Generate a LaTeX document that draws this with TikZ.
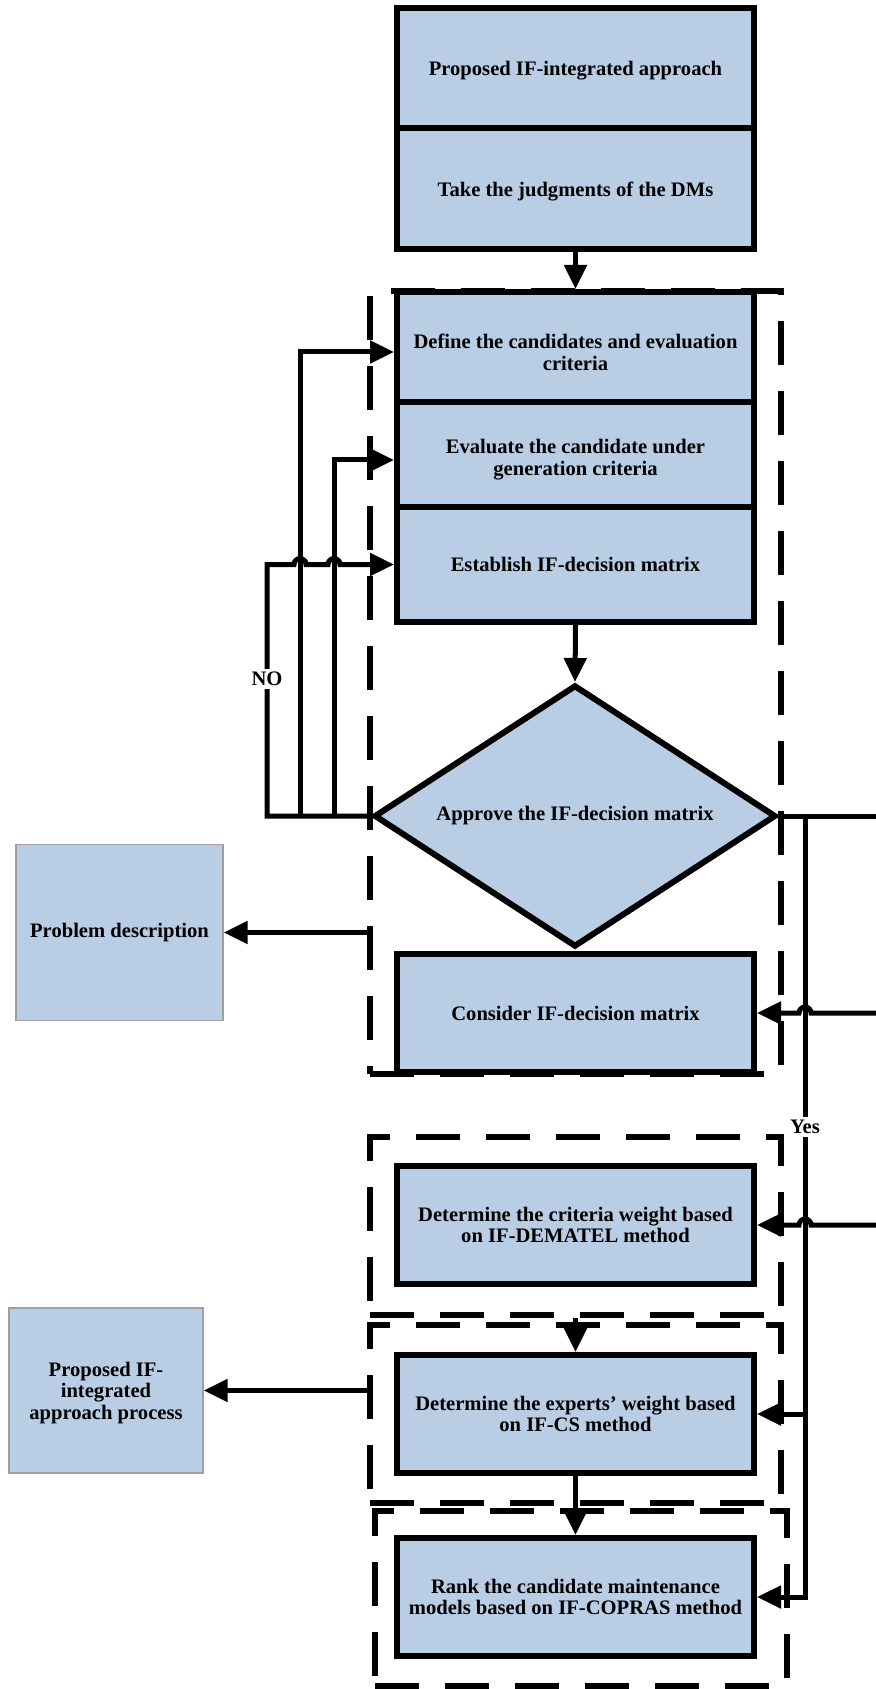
\documentclass[tikz,border=0pt]{standalone}
\usepackage{fontspec}
\setmainfont{Liberation Serif}
\usetikzlibrary{positioning,shapes.geometric,arrows.meta,calc}
\definecolor{boxblue}{HTML}{B9CDE5}
\newcommand{\lowtxt}[1][12.5pt]{\rule{0pt}{#1}}
\tikzset{
  txt/.style={font=\bfseries\fontsize{10.3}{10.8}\selectfont},
  stepbox/.style={draw, line width=3pt, fill=boxblue, minimum width=178.5pt, align=center, txt},
  decision/.style={diamond, aspect=2, draw, line width=3pt, fill=boxblue, inner sep=0pt, align=center, txt},
  sidebox/.style={draw=gray!75, line width=0.7pt, fill=boxblue, align=center, txt},
  groupbox/.style={draw, line width=3pt, dash pattern=on 22pt off 13pt},
  link/.style={->, line width=2.5pt},
  lbl/.style={fill=white, inner sep=1.5pt, txt}
}
\begin{document}
\begin{tikzpicture}[x=0.5pt, y=-0.5pt, >={Triangle[length=12pt,width=11pt]}]
            \useasboundingbox (0,0) rectangle (876,1689);
            % dashed groups
            \node[groupbox, minimum width=205.5pt, minimum height=391.5pt] (g1) at (575.5,682.5) {};
            \node[groupbox, minimum width=205.5pt, minimum height=89pt] (g2) at (575.5,1226) {};
            \node[groupbox, minimum width=205.5pt, minimum height=89pt] (g3) at (575.5,1414) {};
            \node[groupbox, minimum width=206pt, minimum height=87.5pt] (g4) at (581,1598.5) {};
            % main column
            \node[stepbox, minimum height=60pt] (prop) at (575.5,68) {\lowtxt[10pt]Proposed IF-integrated approach};
            \node[stepbox, minimum height=60.5pt] (take) at (575.5,188.5) {\lowtxt[10pt]Take the judgments of the DMs};
            \node[stepbox, minimum height=55pt] (define) at (575.5,347) {\lowtxt Define the candidates and evaluation\\criteria};
            \node[stepbox, minimum height=52.5pt] (evaluate) at (575.5,454.5) {\lowtxt Evaluate the candidate under\\generation criteria};
            \node[stepbox, minimum height=57.5pt] (establish) at (575.5,564.5) {Establish IF-decision matrix};
            \node[decision, minimum width=201pt, minimum height=131pt] (approve) at (575,816) {Approve the IF-decision matrix};
            \node[stepbox, minimum height=59pt] (consider) at (575.5,1013) {Consider IF-decision matrix};
            \node[stepbox, minimum height=59pt] (criteria) at (575.5,1225) {Determine the criteria weight based\\on IF-DEMATEL method};
            \node[stepbox, minimum height=59pt] (experts) at (575.5,1414) {Determine the experts' weight based\\on IF-CS method};
            \node[stepbox, minimum height=59pt] (rank) at (575.5,1597) {Rank the candidate maintenance\\models based on IF-COPRAS method};
            % side boxes
            \node[sidebox, minimum width=103.5pt, minimum height=88pt] (problem) at (119.5,932.5) {Problem description};
            \node[sidebox, minimum width=97pt, minimum height=82.5pt] (process) at (106,1390.5) {\lowtxt[9.5pt]Proposed IF-\\integrated\\approach process};
            % main flow
            \draw[link] (take.south) -- (define.north);
            \draw[link] (establish.south) -- (approve.north);
            \draw[link] (g2.south) -- (experts.north);
            \draw[link] (experts.south) -- (rank.north);
            \draw[link] (g1.west |- problem.east) -- (problem.east);
            \draw[link] (g3.west |- process.east) -- (process.east);
            % NO loop
            \coordinate (fb1) at (267,816);
            \coordinate (fb2) at (300,816);
            \coordinate (fb3) at (334,816);
            \draw[link] (approve.west) -- (fb1) -- (fb1 |- establish.west)
              -- ([xshift=-3pt]fb2 |- establish.west) arc[start angle=180, end angle=0, radius=3pt]
              -- ([xshift=-3pt]fb3 |- establish.west) arc[start angle=180, end angle=0, radius=3pt]
              -- (establish.west);
            \draw[link] (fb2) |- ([yshift=-2.5pt]define.west);
            \draw[link] (fb3) |- ([yshift=-2.75pt]evaluate.west);
            \node[lbl] (no) at (267,679) {NO};
            % Yes branch
            \coordinate (yes0) at (805,816);
            \coordinate (edgeA) at (876,816);
            \coordinate (edgeB) at (876,1013);
            \coordinate (edgeC) at (876,1225);
            \draw[line width=2.5pt] (approve.east) -- (edgeA);
            \draw[link] (yes0) |- (rank.east);
            \draw[link] (yes0 |- experts.east) -- (experts.east);
            \draw[link] (edgeB) -- ([xshift=3pt]yes0 |- consider.east) arc[start angle=0, end angle=180, radius=3pt] -- (consider.east);
            \draw[link] (edgeC) -- ([xshift=3pt]yes0 |- criteria.east) arc[start angle=0, end angle=180, radius=3pt] -- (criteria.east);
            \node[lbl] (yes) at (805,1127) {Yes};
        \end{tikzpicture}
\end{document}
